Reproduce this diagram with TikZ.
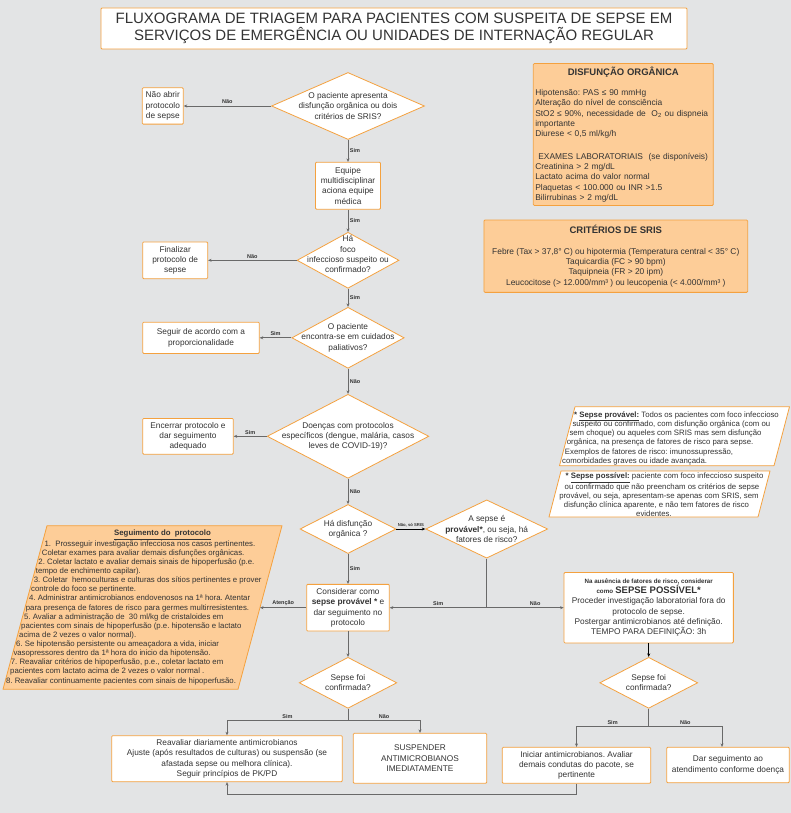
\documentclass[tikz,border=0pt]{standalone}
\usepackage{fontspec}
\setmainfont{Liberation Sans}
\usepackage{xcolor}
\usepackage{tikz}
\usetikzlibrary{positioning,arrows.meta,shapes.geometric,calc}
\definecolor{bgcolor}{RGB}{227,228,229}
\definecolor{sepsecolor}{RGB}{244,161,63}
\definecolor{peachcolor}{RGB}{253,205,152}
\definecolor{inkcolor}{RGB}{51,51,51}
\definecolor{wirecolor}{RGB}{105,105,105}
\frenchspacing

\begin{document}
\begin{tikzpicture}[
  x=1pt, y=-1pt,
  every node/.style={text=inkcolor},
  box/.style={rectangle, draw=sepsecolor, fill=white, line width=0.8pt, rounded corners=1pt, align=center, inner sep=1pt, font=\fontsize{8.3}{10.3}\selectfont},
  info/.style={rectangle, draw=sepsecolor, fill=peachcolor, line width=0.8pt, rounded corners=1pt, font=\fontsize{8.4}{10.3}\selectfont},
  decision/.style 2 args={diamond, draw=sepsecolor, fill=white, line width=0.8pt, inner sep=0pt, minimum width=#1, minimum height=#2},
  dtext/.style={align=center, inner sep=0pt, font=\fontsize{8.3}{10.3}\selectfont},
  slanted/.style={draw=sepsecolor, line width=0.8pt, line join=round},
  note/.style={inner sep=0pt, align=left, font=\fontsize{7.8}{9.3}\selectfont},
  arrow/.style={-{Stealth[length=3.5pt,width=3pt]}, draw=wirecolor, line width=0.9pt},
  wire/.style={draw=wirecolor, line width=0.9pt},
  tag/.style={font=\fontsize{5.5}{6}\selectfont\bfseries, inner sep=1.5pt}
]
  \useasboundingbox (0,0) rectangle (791,813);
  \fill[bgcolor] (0,0) rectangle (791,813);

  % Title
  \node[box, font=\fontsize{15}{17}\selectfont, minimum width=586, minimum height=41] (title) at (394,28.5)
    {FLUXOGRAMA DE TRIAGEM PARA PACIENTES COM SUSPEITA DE SEPSE EM\\SERVIÇOS DE EMERGÊNCIA OU UNIDADES DE INTERNAÇÃO REGULAR};

  % Decisions
  \node[decision={153}{67}, label={[dtext]center:O paciente apresenta\\disfunção orgânica ou dois\\critérios de SRIS?}] (ask1) at (348,106) {};
  \node[decision={102}{56}, label={[dtext, yshift=6pt]center:Há\\foco\\infeccioso suspeito ou\\confirmado?}] (ask2) at (348,260.3) {};
  \node[decision={112.3}{61}, label={[dtext]center:O paciente\\encontra-se em cuidados\\paliativos?}] (ask3) at (348,337.8) {};
  \node[decision={161.7}{84}, label={[dtext]center:Doenças com protocolos\\específicos (dengue, malária, casos\\leves de COVID-19)?}] (ask4) at (348,436.3) {};
  \node[decision={96}{49}, label={[dtext]center:Há disfunção\\orgânica ?}] (ask5) at (348,529) {};
  \node[decision={122}{58.3}, label={[dtext]center:A sepse é\\\textbf{provável*}, ou seja, há\\fatores de risco?}] (ask6) at (486.7,529) {};
  \node[decision={97.7}{51}, label={[dtext]center:Sepse foi\\confirmada?}] (conf1) at (348,682.8) {};
  \node[decision={98}{51}, label={[dtext]center:Sepse foi\\confirmada?}] (conf2) at (648.7,682.8) {};

  % Actions
  \node[box, minimum width=41, minimum height=36.3] (noopen) at (162.8,106) {Não abrir\\protocolo\\de sepse};
  \node[box, minimum width=65, minimum height=47] (team) at (348,185.8) {Equipe\\multidisciplinar\\aciona equipe\\médica};
  \node[box, minimum width=65, minimum height=36.7] (finish) at (175.2,260.3) {Finalizar\\protocolo de\\sepse};
  \node[box, minimum width=116.6, minimum height=31.3] (follow) at (201,337.8) {Seguir de acordo com a\\proporcionalidade};
  \node[box, minimum width=90.6, minimum height=35.7] (close) at (188,436.3) {Encerrar protocolo e\\dar seguimento\\adequado};
  \node[box, minimum width=82.6, minimum height=46.7] (probable) at (348,607.7) {Considerar como\\\textbf{sepse provável *} e\\dar seguimento no\\protocolo};
  \node[box, minimum width=169.3, minimum height=70.4] (possible) at (648.7,607.7)
    {{\fontsize{6.2}{8}\selectfont\bfseries Na ausência de fatores de risco, considerar}\\
     {\fontsize{6.2}{8}\selectfont\bfseries como} {\fontsize{9.5}{10}\selectfont\bfseries SEPSE POSSÍVEL*}\\
     Proceder investigação laboratorial fora do\\protocolo de sepse.\\
     Postergar antimicrobianos até definição.\\TEMPO PARA DEFINIÇÃO: 3h};
  \node[box, minimum width=230.6, minimum height=46] (review) at (227,758.7)
    {Reavaliar diariamente antimicrobianos\\Ajuste (após resultados de culturas) ou suspensão (se\\afastada sepse ou melhora clínica).\\Seguir princípios de PK/PD};
  \node[box, minimum width=133.4, minimum height=50] (stop) at (420,758.3) {SUSPENDER\\ANTIMICROBIANOS\\IMEDIATAMENTE};
  \node[box, minimum width=148.4, minimum height=36] (start) at (576.5,765.3) {Iniciar antimicrobianos. Avaliar\\demais condutas do pacote, se\\pertinente};
  \node[box, minimum width=122.6, minimum height=35.4] (goon) at (728,765) {Dar seguimento ao\\atendimento conforme doença};

  % Criteria
  \node[info, text width=176pt, inner xsep=2pt, minimum height=137.6, align=left] (organ) at (623.3,134.5)
    {\makebox[176pt]{\fontsize{9.5}{11}\selectfont\bfseries DISFUNÇÃO ORGÂNICA}\\[10pt]
     Hipotensão: PAS ≤ 90 mmHg\\
     Alteração do nível de consciência\\
     StO2 ≤ 90\%, necessidade de\ \ O\textsubscript{2} ou dispneia\\
     importante\\
     Diurese < 0,5 ml/kg/h\\[12pt]
     \hspace*{3pt}EXAMES LABORATORIAIS\ \ (se disponíveis)\\
     Creatinina > 2 mg/dL\\
     Lactato acima do valor normal\\
     Plaquetas < 100.000 ou INR >1.5\\
     Bilirrubinas > 2 mg/dL};
  \node[info, align=center, minimum width=263.7, minimum height=72.3] (sirs) at (615.8,256.2)
    {{\fontsize{9.5}{11}\selectfont\bfseries CRITÉRIOS DE SRIS}\\[10pt]
     Febre (Tax > 37,8° C) ou hipotermia (Temperatura central < 35° C)\\
     Taquicardia (FC > 90 bpm)\\
     Taquipneia (FR > 20 ipm)\\
     Leucocitose (> 12.000/mm³ ) ou leucopenia (< 4.000/mm³ )};

  % Notes
  \draw[slanted, fill=peachcolor] (47,525.7) -- (282,525.7) -- (238,689.3) -- (3,689.3) -- cycle;
  \coordinate (stepsin) at (260,607.7);
  \node[note, anchor=west, font=\fontsize{7.8}{9.125}\selectfont] (steps) at (6,607.5)
    {\hspace*{108pt}\underline{\textbf{Seguimento do\ \ protocolo}}\\
     \hspace*{38.3pt}1.\ \ Prosseguir investigação infecciosa nos casos pertinentes.\\
     \hspace*{35.7pt}Coletar exames para avaliar demais disfunções orgânicas.\\
     \hspace*{32.3pt}2. Coletar lactato e avaliar demais sinais de hipoperfusão (p.e.\\
     \hspace*{29.7pt}tempo de enchimento capilar).\\
     \hspace*{27.7pt}3. Coletar\ \ hemoculturas e culturas dos sítios pertinentes e prover\\
     \hspace*{25pt}controle do foco se pertinente.\\
     \hspace*{23pt}4. Administrar antimicrobianos endovenosos na 1ª hora. Atentar\\
     \hspace*{19.7pt}para presença de fatores de risco para germes multirresistentes.\\
     \hspace*{18pt}5. Avaliar a administração de\ \ 30 ml/kg de cristaloides em\\
     \hspace*{15pt}pacientes com sinais de hipoperfusão (p.e. hipotensão e lactato\\
     \hspace*{13pt}acima de 2 vezes o valor normal).\\
     \hspace*{10pt}6. Se hipotensão persistente ou ameaçadora a vida, iniciar\\
     \hspace*{7.3pt}vasopressores dentro da 1ª hora do inicio da hipotensão.\\
     \hspace*{4.7pt}7. Reavaliar critérios de hipoperfusão, p.e., coletar lactato em\\
     \hspace*{4pt}pacientes com lactato acima de 2 vezes o valor normal .\\
     8. Reavaliar continuamente pacientes com sinais de hipoperfusão.};

  \draw[slanted, fill=white] (575,406.7) -- (789.5,406.7) -- (774,465.7) -- (559.5,465.7) -- cycle;
  \node[note, anchor=west] (probnote) at (562,438.3)
    {\hspace*{12pt}\textbf{* \underline{Sepse provável:}} Todos os pacientes com foco infeccioso\\
     \hspace*{10.3pt}suspeito ou confirmado, com disfunção orgânica (com ou\\
     \hspace*{7.3pt}sem choque) ou aqueles com SRIS mas sem disfunção\\
     \hspace*{4.7pt}orgânica, na presença de fatores de risco para sepse.\\
     \hspace*{2.7pt}Exemplos de fatores de risco: imunossupressão,\\
     comorbidades graves ou idade avançada.};

  \draw[slanted, fill=white] (561,471) -- (770,471) -- (758,517) -- (549,517) -- cycle;
  \node[note, align=center] (possnote) at (654,495)
    {\hspace*{21pt}\textbf{* \underline{Sepse possível:}} paciente com foco infeccioso suspeito\\
     \hspace*{16pt}ou confirmado que não preencham os critérios de sepse\\
     \hspace*{10pt}provável, ou seja, apresentam-se apenas com SRIS, sem\\
     \hspace*{5pt}disfunção clínica aparente, e não tem fatores de risco\\
     evidentes.};

  % Edges
  \coordinate (split6) at (486.7,607.7);
  \coordinate (split7) at (348,720.7);
  \coordinate (split8) at (648.7,726.7);

  \draw[arrow] (ask1) -- node[tag, above] {Não} (noopen);
  \draw[arrow] (ask1) -- node[tag, right] {Sim} (team);
  \draw[arrow] (team) -- node[tag, right] {Sim} (ask2);
  \draw[arrow] (ask2) -- node[tag, above] {Não} (finish);
  \draw[arrow] (ask2) -- node[tag, right] {Sim} (ask3);
  \draw[arrow] (ask3) -- node[tag, above] {Sim} (follow);
  \draw[arrow] (ask3) -- node[tag, right] {Não} (ask4);
  \draw[arrow] (ask4) -- node[tag, above] {Sim} (close);
  \draw[arrow] (ask4) -- node[tag, right] {Não} (ask5);
  \draw[arrow, draw=black] (ask5) -- node[tag, above, font=\fontsize{4.2}{5}\selectfont\bfseries] {Não, só SRIS} (ask6);
  \draw[arrow] (ask5) -- node[tag, right] {Sim} (probable);
  \draw[wire] (ask6) -- (split6);
  \draw[arrow] (split6) -- node[tag, above] {Sim} (probable);
  \draw[arrow] (split6) -- node[tag, above, pos=0.63] {Não} (possible);
  \draw[arrow] (probable) -- node[tag, above] {Atenção} (stepsin);
  \draw[arrow] (probable) -- (conf1);
  \draw[arrow, draw=black] (possible) -- (conf2);
  \draw[wire] (conf1) -- (split7);
  \draw[arrow] (split7) -| node[tag, above, pos=0.25] {Sim} (review);
  \draw[arrow] (split7) -| node[tag, above, pos=0.25] {Não} (stop);
  \draw[wire] (conf2) -- (split8);
  \draw[arrow] (split8) -| node[tag, above, pos=0.25] {Sim} (start);
  \draw[arrow] (split8) -| node[tag, above, pos=0.25] {Não} ([xshift=-6pt]goon.north);
  \draw[arrow] (start.south) -- ++(0,11) -| (review.south);

\end{tikzpicture}
\end{document}
